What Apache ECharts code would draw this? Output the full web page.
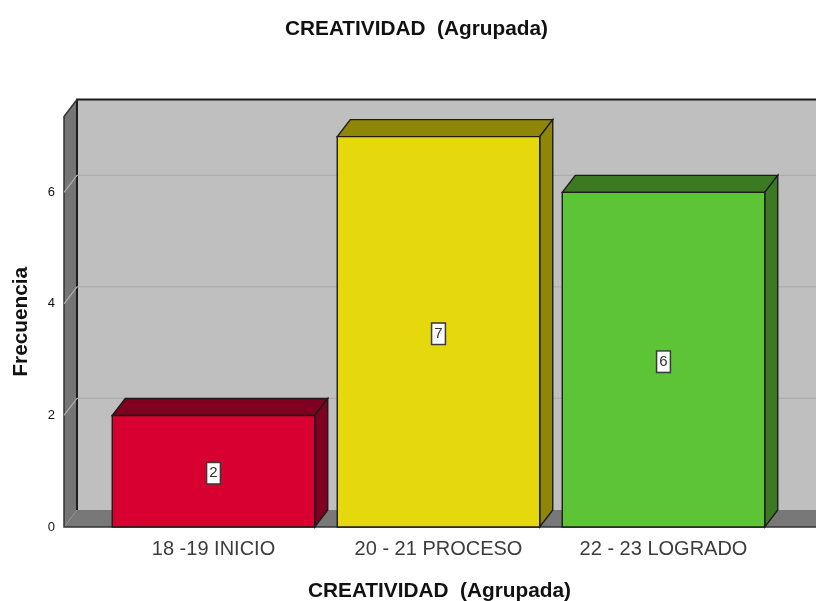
<!DOCTYPE html>
<html>
<head>
<meta charset="utf-8">
<style>
    html, body { margin: 0; padding: 0; background: #fff; }
    #chart { width: 816px; height: 601px; }
</style>
<script src="https://cdn.jsdelivr.net/npm/echarts@6/dist/echarts.min.js"></script>
</head>
<body>
<div id="chart"></div>
<script>
const categories = ['18 -19 INICIO', '20 - 21 PROCESO', '22 - 23 LOGRADO'];
const frecuencias = [2, 7, 6];
const yTicks = [2, 4, 6];

const frontColors = ['#d70030', '#e5d90e', '#5dc437'];
const shadeColors = ['#7f0020', '#8f8507', '#3b7a22'];

// 3D look of the SPSS chart: how far the back plane sits from the front one
const depthX = 13;
const depthY = 17;
const wallOverhang = 37;
const fontFamily = '"Liberation Sans", Arial, sans-serif';

function face(points, fill) {
    return {
        type: 'polygon',
        shape: { points: points },
        style: { fill: fill, stroke: '#1c1c1c', lineWidth: 1.4 }
    };
}

function renderWalls(params, api) {
    const box = params.coordSys;
    const left = box.x - wallOverhang;
    const right = api.getWidth() + 2;
    const top = box.y;
    const bottom = box.y + box.height;
    return {
        type: 'group',
        children: [
            { type: 'rect', shape: { x: left + depthX, y: top - depthY, width: right - left, height: box.height },
              style: { fill: '#bfbfbf' } },
            { type: 'polygon', shape: { points: [[left, top], [left + depthX, top - depthY], [left + depthX, bottom - depthY], [left, bottom]] },
              style: { fill: '#757575' } },
            { type: 'polygon', shape: { points: [[left, bottom], [left + depthX, bottom - depthY], [right, bottom - depthY], [right, bottom]] },
              style: { fill: '#787878' } },
            { type: 'polyline', shape: { points: [[left + depthX, bottom - depthY], [left + depthX, top - depthY], [right, top - depthY]] },
              style: { fill: 'none', stroke: '#1c1c1c', lineWidth: 2 } },
            { type: 'polyline', shape: { points: [[left + depthX, top - depthY], [left, top], [left, bottom], [right, bottom]] },
              style: { fill: 'none', stroke: '#333333', lineWidth: 1.5 } }
        ]
    };
}

function renderGridLine(params, api) {
    const box = params.coordSys;
    const left = box.x - wallOverhang;
    const y = api.coord([0, api.value(1)])[1];
    return {
        type: 'polyline',
        shape: { points: [[left, y], [left + depthX, y - depthY], [api.getWidth() + 2, y - depthY]] },
        style: { fill: 'none', stroke: '#adadad', lineWidth: 1.2 }
    };
}

function renderBar(params, api) {
    const i = params.dataIndex;
    const center = api.coord([api.value(0), 0]);
    const top = api.coord([api.value(0), api.value(1)])[1];
    const bottom = center[1];
    const half = api.size([1, 0])[0] * 0.9 / 2;
    const x0 = center[0] - half;
    const x1 = center[0] + half;
    return {
        type: 'group',
        children: [
            face([[x0, top], [x0 + depthX, top - depthY], [x1 + depthX, top - depthY], [x1, top]], shadeColors[i]),
            face([[x1, top], [x1 + depthX, top - depthY], [x1 + depthX, bottom - depthY], [x1, bottom]], shadeColors[i]),
            face([[x0, top], [x1, top], [x1, bottom], [x0, bottom]], frontColors[i]),
            {
                type: 'text',
                x: center[0],
                y: (top + bottom) / 2 + 2,
                style: {
                    text: String(api.value(1)),
                    align: 'center',
                    verticalAlign: 'middle',
                    fill: '#333333',
                    font: '15px ' + fontFamily,
                    backgroundColor: '#ffffff',
                    borderColor: '#3a3a3a',
                    borderWidth: 1.5,
                    padding: [3, 2, 2, 2]
                }
            }
        ]
    };
}

const chart = echarts.init(document.getElementById('chart'), null, { renderer: 'canvas' });

chart.setOption({
    animation: false,
    backgroundColor: '#ffffff',
    title: {
        text: 'CREATIVIDAD  (Agrupada)',
        left: 411.5,
        top: 14,
        textAlign: 'center',
        textStyle: { fontFamily: fontFamily, fontSize: 20.8, fontWeight: 'bold', color: '#111111' }
    },
    grid: { left: 101, width: 675, top: 116.5, height: 410.5, outerBoundsMode: 'none' },
    xAxis: {
        type: 'category',
        data: categories,
        name: 'CREATIVIDAD  (Agrupada)',
        nameLocation: 'middle',
        nameGap: 54,
        nameTextStyle: { fontFamily: fontFamily, fontSize: 20.8, fontWeight: 'bold', color: '#111111', padding: [0, 0, 0, 2] },
        axisLine: { show: false },
        axisTick: { show: false },
        axisLabel: { fontFamily: fontFamily, fontSize: 20, color: '#3c3c3c', margin: 12 }
    },
    yAxis: {
        type: 'value',
        min: 0,
        max: 7.36,
        interval: 2,
        offset: wallOverhang,
        name: 'Frecuencia',
        nameLocation: 'middle',
        nameGap: 32,
        nameTextStyle: { fontFamily: fontFamily, fontSize: 20.8, fontWeight: 'bold', color: '#111111' },
        axisLine: { show: false },
        axisTick: { show: false },
        splitLine: { show: false },
        axisLabel: { fontFamily: fontFamily, fontSize: 13, color: '#111111', margin: 9, padding: [4, 0, 0, 0], showMaxLabel: false }
    },
    series: [
        { type: 'custom', silent: true, z: 1, clip: false, renderItem: renderWalls, data: [[0, 0]] },
        { type: 'custom', silent: true, z: 2, clip: false, renderItem: renderGridLine, data: yTicks.map(v => [0, v]) },
        { type: 'custom', silent: true, z: 3, clip: false, renderItem: renderBar,
          encode: { x: 0, y: 1 },
          data: frecuencias.map((v, i) => [i, v]) }
    ]
});
</script>
</body>
</html>
